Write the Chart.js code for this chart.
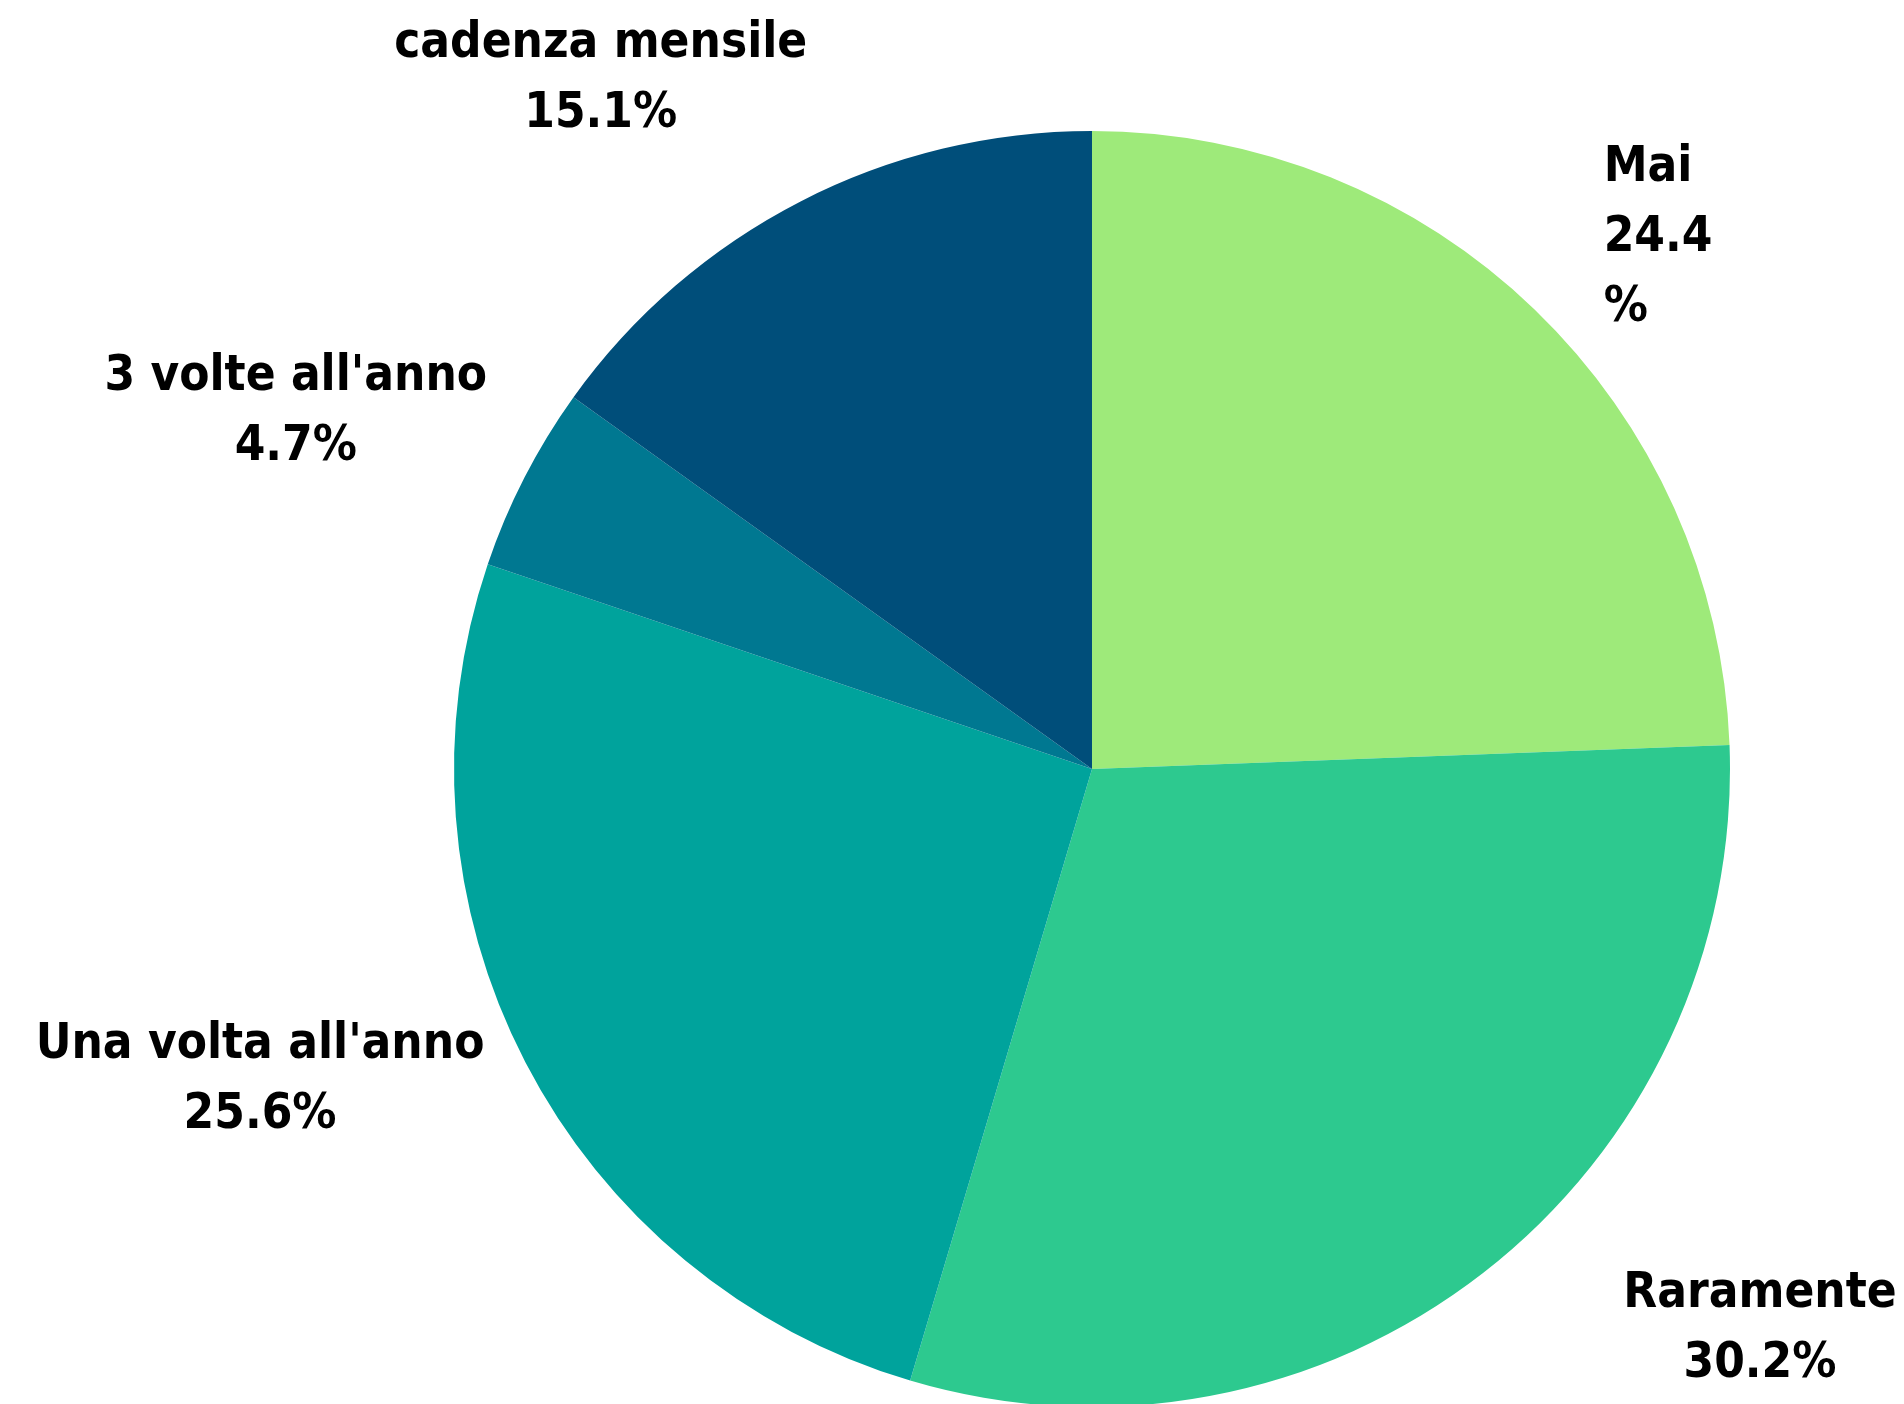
<!DOCTYPE html>
<html>
<head>
<meta charset="utf-8">
<script src="https://cdn.jsdelivr.net/npm/chart.js@4"></script>
<style>
  html, body { margin: 0; padding: 0; background: #fff; overflow: hidden; }
</style>
</head>
<body>
<canvas id="pie-chart" width="1904" height="1410"></canvas>
<script>
// data, clockwise from 12 o'clock
const categories = ["Mai", "Raramente", "Una volta all'anno", "3 volte all'anno", "cadenza mensile"];
const shares = [24.4, 30.2, 25.6, 4.7, 15.1];
const sliceColors = ["#9eea7a", "#2dc98f", "#00a39c", "#007891", "#004e7a"];

// label text: name + percent, "Mai" got wrapped in the original
const labelTexts = categories.map((c, i) => c + "\n" + shares[i].toFixed(1) + "%");
labelTexts[0] = categories[0] + "\n" + shares[0].toFixed(1) + "\n%";

// where each label block sits, in units of the pie radius from its centre
const labelSpots = [
  { fx: 0.802, fy: -0.839, align: "left" },
  { fx: 1.047, fy: 0.871, align: "center" },
  { fx: -1.304, fy: 0.48, align: "center" },
  { fx: -1.248, fy: -0.567, align: "center" },
  { fx: -0.77, fy: -1.088, align: "center" }
];
const labelFontSize = 49, labelLineHeight = 70;

const outsideLabels = {
  id: "outsideLabels",
  afterDraw(chart) {
    const ctx = chart.ctx;
    const arcs = chart.getDatasetMeta(0).data;
    ctx.save();
    ctx.fillStyle = "#000";
    ctx.font = "bold " + labelFontSize + "px 'DejaVu Sans Condensed', 'DejaVu Sans', sans-serif";
    ctx.textBaseline = "alphabetic";
    arcs.forEach((arc, i) => {
      const { x, y, outerRadius } = arc.getProps(["x", "y", "outerRadius"], true);
      const spot = labelSpots[i];
      const cx = x + spot.fx * outerRadius;
      const cy = y + spot.fy * outerRadius;
      const lines = labelTexts[i].split("\n");
      ctx.textAlign = spot.align;
      lines.forEach((line, k) => {
        const by = cy + (k - (lines.length - 1) / 2) * labelLineHeight + labelFontSize * 0.36;
        ctx.fillText(line, cx, by);
      });
    });
    ctx.restore();
  }
};

new Chart(document.getElementById("pie-chart"), {
  type: "pie",
  data: {
    labels: categories,
    datasets: [{
      data: shares,
      backgroundColor: sliceColors,
      borderWidth: 0
    }]
  },
  options: {
    responsive: false,
    animation: false,
    events: [],
    layout: {
      padding: { left: 454, right: 174, top: 131, bottom: 3 }
    },
    plugins: {
      legend: { display: false },
      tooltip: { enabled: false }
    }
  },
  plugins: [outsideLabels]
});
</script>
</body>
</html>
